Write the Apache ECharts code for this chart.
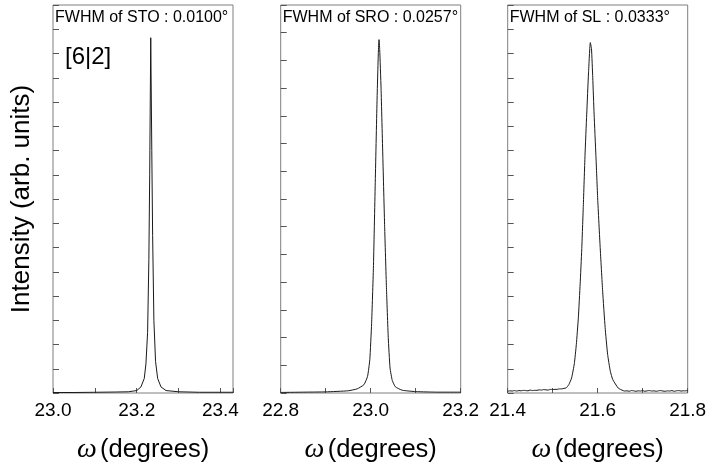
<!DOCTYPE html>
<html>
<head>
<meta charset="utf-8">
<script src="https://cdn.jsdelivr.net/npm/echarts@6/dist/echarts.min.js"></script>
<style>html,body{margin:0;padding:0;background:#fff}#c{width:708px;height:466px}</style>
</head>
<body>
<div id="c"></div>
<script>
// ---- Data (intensity in arbitrary units) ----
const panelTitles = ['FWHM of STO : 0.0100\u00b0', 'FWHM of SRO : 0.0257\u00b0', 'FWHM of SL : 0.0333\u00b0'];
const xMins = [23.0, 22.8, 21.4];
const xMaxs = [23.43, 23.2, 21.8];
const yMaxs = [16, 14, 16];

const stoX = [23.000, 23.050, 23.100, 23.150, 23.180, 23.200, 23.210, 23.218, 23.222, 23.226, 23.229, 23.231, 23.2335, 23.236, 23.238, 23.241, 23.245, 23.250, 23.258, 23.270, 23.300, 23.350, 23.430];
const stoY = [0.02, 0.02, 0.03, 0.04, 0.05, 0.10, 0.25, 0.60, 1.20, 2.50, 5.50, 9.00, 14.65, 10.00, 6.50, 3.00, 1.30, 0.60, 0.25, 0.10, 0.05, 0.03, 0.03];

const sroX = [22.800, 22.850, 22.900, 22.950, 22.970, 22.985, 22.993, 22.998, 23.002, 23.006, 23.010, 23.014, 23.017, 23.0185, 23.020, 23.023, 23.027, 23.031, 23.035, 23.039, 23.043, 23.048, 23.055, 23.070, 23.100, 23.150, 23.200];
const sroY = [0.02, 0.03, 0.04, 0.08, 0.15, 0.30, 0.60, 1.20, 2.50, 4.50, 7.50, 10.50, 12.30, 12.75, 12.40, 11.00, 8.50, 6.00, 3.80, 2.00, 0.90, 0.45, 0.22, 0.10, 0.05, 0.03, 0.03];

const slX = [21.400, 21.405, 21.410, 21.415, 21.420, 21.425, 21.430, 21.435, 21.440, 21.445, 21.450, 21.455, 21.460, 21.465, 21.470, 21.475, 21.480, 21.485, 21.490, 21.495, 21.500, 21.505, 21.510, 21.515, 21.520, 21.525, 21.530,
  21.536, 21.542, 21.548, 21.5525, 21.557, 21.561, 21.5645, 21.568, 21.5718, 21.5756, 21.5796, 21.5836, 21.5862, 21.589, 21.592, 21.596, 21.600, 21.6055, 21.611, 21.6165, 21.622, 21.628, 21.6335, 21.6458, 21.6562,
  21.660, 21.665, 21.670, 21.675, 21.680, 21.685, 21.690, 21.695, 21.700, 21.705, 21.710, 21.715, 21.720, 21.725, 21.730, 21.735, 21.740, 21.745, 21.750, 21.755, 21.760, 21.765, 21.770, 21.775, 21.780, 21.785, 21.790, 21.795, 21.800];
const slY = [0.07, 0.09, 0.08, 0.10, 0.08, 0.10, 0.09, 0.11, 0.10, 0.09, 0.12, 0.10, 0.11, 0.11, 0.13, 0.12, 0.14, 0.13, 0.12, 0.15, 0.14, 0.15, 0.15, 0.17, 0.17, 0.19, 0.21,
  0.35, 0.62, 1.20, 2.00, 3.10, 4.50, 5.90, 7.70, 9.80, 11.50, 13.20, 14.45, 14.20, 13.00, 11.50, 9.80, 8.00, 6.00, 4.20, 2.70, 1.60, 0.90, 0.55, 0.20, 0.10,
  0.08, 0.09, 0.07, 0.10, 0.09, 0.07, 0.09, 0.08, 0.10, 0.07, 0.09, 0.10, 0.08, 0.09, 0.07, 0.09, 0.10, 0.08, 0.07, 0.09, 0.08, 0.10, 0.07, 0.09, 0.10, 0.08, 0.09, 0.09, 0.10];

const seriesX = [stoX, sroX, slX];
const seriesY = [stoY, sroY, slY];

// ---- Layout ----
const gridLefts = [53, 280.7, 507.7];
const gridWidth = 180;
const gridTop = 5;
const gridHeight = 388;

const chart = echarts.init(document.getElementById('c'), null, {renderer: 'canvas'});

const SANS = '"Liberation Sans", Arial, sans-serif';
const SERIF = '"Liberation Serif", "Times New Roman", serif';

const grids = [], xAxes = [], yAxes = [], series = [], graphics = [];
for (let i = 0; i < 3; i++) {
  grids.push({
    left: gridLefts[i], top: gridTop, width: gridWidth, height: gridHeight,
    show: true, borderColor: '#7f7f7f', borderWidth: 1, backgroundColor: 'transparent',
    containLabel: false, outerBoundsMode: 'none'
  });
  xAxes.push({
    type: 'value', gridIndex: i, min: xMins[i], max: xMaxs[i], interval: 0.1,
    axisLine: {show: false},
    axisTick: {show: true, inside: true, length: 5, lineStyle: {color: '#555', width: 1}},
    splitLine: {show: false},
    axisLabel: {
      show: true, margin: 8, color: '#000', fontFamily: SANS, fontSize: 19,
      showMinLabel: true, showMaxLabel: true, hideOverlap: false,
      formatter: function (v) {
        const k = v * 5;
        return Math.abs(k - Math.round(k)) < 1e-6 ? v.toFixed(1) : '';
      }
    },
    name: '{w|\u03c9} {t|(degrees)}',
    nameLocation: 'middle', nameGap: 43,
    nameTextStyle: {
      rich: {
        w: {fontFamily: SERIF, fontStyle: 'italic', fontSize: 28, color: '#000'},
        t: {fontFamily: SANS, fontSize: 25.5, color: '#000'}
      }
    }
  });
  yAxes.push({
    type: 'value', gridIndex: i, min: 0, max: yMaxs[i], interval: 1,
    axisLine: {show: false},
    axisTick: {show: true, inside: true, length: 6, lineStyle: {color: '#555', width: 1}},
    axisLabel: {show: false},
    splitLine: {show: false},
    name: i === 0 ? 'Intensity (arb. units)' : '',
    nameLocation: 'middle', nameRotate: 90, nameGap: 18,
    nameTextStyle: {fontFamily: SANS, fontSize: 26, color: '#000'}
  });
  const pts = seriesX[i].map((x, j) => [x, seriesY[i][j]]);
  series.push({
    type: 'line', xAxisIndex: i, yAxisIndex: i, data: pts,
    showSymbol: false, symbol: 'none', smooth: i === 0 ? false : 0.15, clip: true,
    lineStyle: {color: '#1a1a1a', width: 1}
  });
  graphics.push({
    type: 'text', left: gridLefts[i] + 2, top: 10,
    style: {text: panelTitles[i], font: '16px "Liberation Sans", Arial, sans-serif', fill: '#000'}
  });
}
graphics.push({
  type: 'text', left: 65, top: 45,
  style: {text: '[6|2]', font: '24px "Liberation Sans", Arial, sans-serif', fill: '#000'}
});

chart.setOption({
  animation: false,
  backgroundColor: '#fff',
  grid: grids, xAxis: xAxes, yAxis: yAxes, series: series,
  graphic: graphics
});
</script>
</body>
</html>
